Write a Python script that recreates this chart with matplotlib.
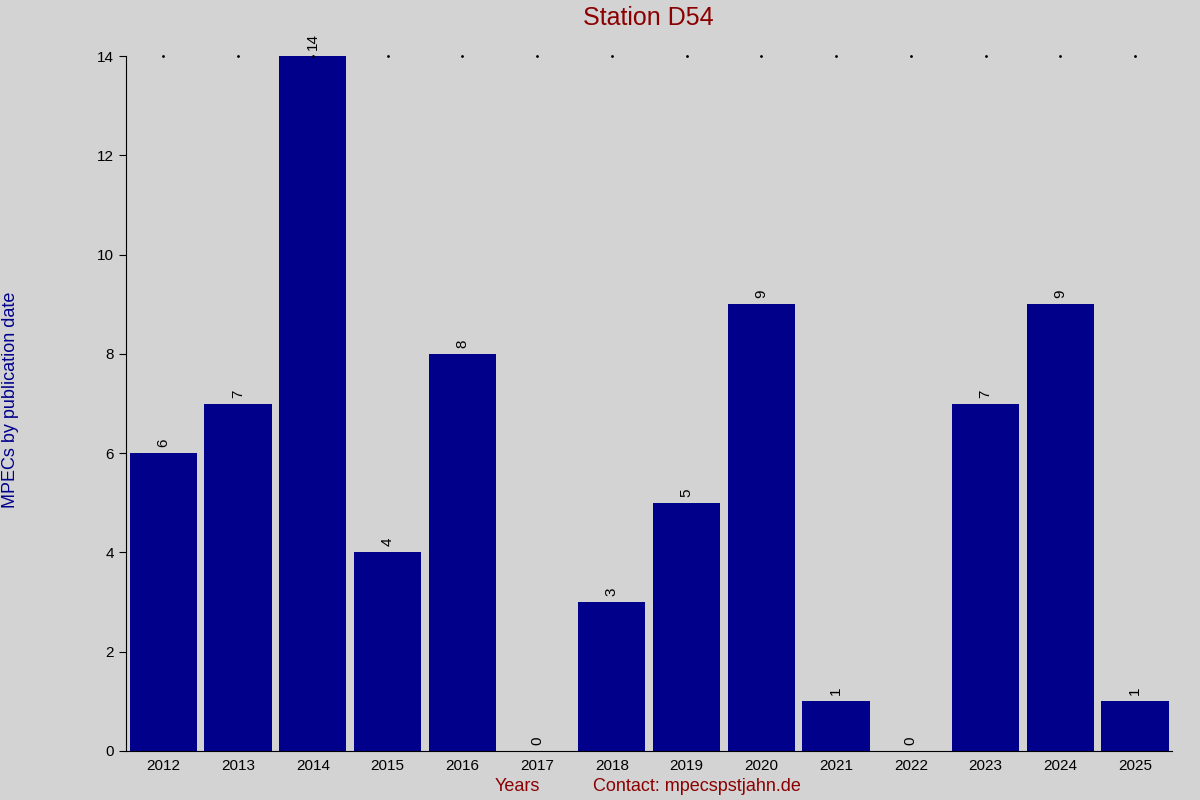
import matplotlib
matplotlib.use("Agg")
import matplotlib.pyplot as plt

years = ["2012","2013","2014","2015","2016","2017","2018","2019","2020","2021","2022","2023","2024","2025"]
counts = [6, 7, 14, 4, 8, 0, 3, 5, 9, 1, 0, 7, 9, 1]

plt.rcParams['font.family'] = ['Liberation Sans', 'DejaVu Sans']
fig = plt.figure(figsize=(12, 8), dpi=100, facecolor='#d3d3d3')
ax = fig.add_axes([0.105, 0.06125, 0.872, 0.86875], facecolor='#d3d3d3')
x = list(range(len(years)))
ax.bar(x, counts, width=0.9, color='#00008b')
for xi, c in zip(x, counts):
    ax.text(xi, c + 0.12, str(c), rotation=90, ha='center', va='bottom', fontsize=11, color='black')
ax.set_xlim(-0.5, len(years) - 0.5)
ax.set_ylim(0, 14)
ax.set_xticks(x)
ax.set_xticklabels(years, fontsize=11)
ax.set_yticks(range(0, 15, 2))
ax.tick_params(axis='y', labelsize=11, length=5, direction='out')
ax.tick_params(axis='x', length=0, pad=6)
for s in ['top', 'right']:
    ax.spines[s].set_visible(False)
ax.scatter(x, [14]*len(x), s=1, color='black', clip_on=False)
fig.text(0.54, 0.978, 'Station D54', ha='center', va='center', fontsize=18, color='#8b0000')
fig.text(0.009, 0.5, 'MPECs by publication date', rotation=90, ha='center', va='center', fontsize=13, color='#00008b')
fig.text(0.431, 0.017, 'Years', ha='center', va='center', fontsize=13, color='#8b0000')
fig.text(0.581, 0.017, 'Contact: mpecspstjahn.de', ha='center', va='center', fontsize=13, color='#8b0000')
fig.savefig('out.png', dpi=100, facecolor=fig.get_facecolor())
